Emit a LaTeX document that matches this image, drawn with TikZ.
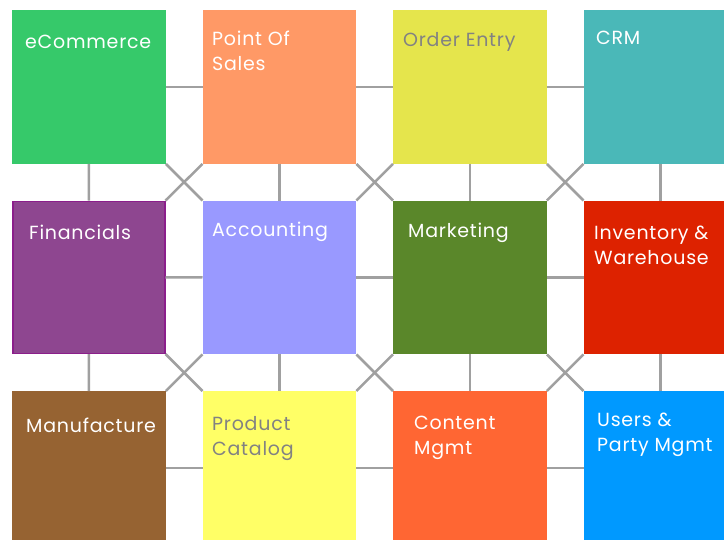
\documentclass[tikz,border=0pt]{standalone}
\usepackage{fontspec}
\setmainfont[LetterSpace=4]{Poppins}
\definecolor{cEcom}{RGB}{54,201,106}
\definecolor{cPos}{RGB}{255,153,102}
\definecolor{cOrder}{RGB}{229,229,76}
\definecolor{cCrm}{RGB}{74,184,184}
\definecolor{cFin}{RGB}{142,70,144}
\definecolor{cFinB}{RGB}{139,30,139}
\definecolor{cAcc}{RGB}{153,153,255}
\definecolor{cMkt}{RGB}{90,135,42}
\definecolor{cInv}{RGB}{221,34,0}
\definecolor{cMan}{RGB}{150,99,50}
\definecolor{cProd}{RGB}{255,255,102}
\definecolor{cCont}{RGB}{255,102,51}
\definecolor{cUser}{RGB}{0,153,255}
\definecolor{cLine}{RGB}{160,160,160}
\definecolor{cTxtG}{RGB}{130,130,130}
\tikzset{
  box/.style={draw=none, minimum width=153.5pt, minimum height=153.5pt, inner sep=0pt, anchor=north west},
  lbl/.style={anchor=base west, inner sep=0pt, align=left, font=\fontsize{19}{25}\selectfont, text=white},
  link/.style={draw=cLine, line width=2.5pt}
}
\begin{document}
\begin{tikzpicture}[x=1pt,y=-1pt]
\useasboundingbox (0,0) rectangle (724,539);
\clip (0,0) rectangle (724,539);
% boxes
\node[box, fill=cEcom]  (b11) at (12,10) {};
\node[box, fill=cPos]   (b12) at (202.5,10) {};
\node[box, fill=cOrder] (b13) at (393,10) {};
\node[box, fill=cCrm]   (b14) at (583.5,10) {};
\node[box, fill=cFin, draw=cFinB, line width=1.5pt, minimum width=152pt, minimum height=152pt] (b21) at (12,200.5) {};
\node[box, fill=cAcc]   (b22) at (202.5,200.5) {};
\node[box, fill=cMkt]   (b23) at (393,200.5) {};
\node[box, fill=cInv]   (b24) at (583.5,200.5) {};
\node[box, fill=cMan]   (b31) at (12,391) {};
\node[box, fill=cProd]  (b32) at (202.5,391) {};
\node[box, fill=cCont]  (b33) at (393,391) {};
\node[box, fill=cUser]  (b34) at (583.5,391) {};
% horizontal links
\foreach \r in {1,2,3}{
  \draw[link] (b\r1.east) -- (b\r2.west);
  \draw[link] (b\r2.east) -- (b\r3.west);
  \draw[link] (b\r3.east) -- (b\r4.west);
}
% vertical links
\foreach \c in {1,2,3,4}{
  \draw[link] (b1\c.south) -- (b2\c.north);
  \draw[link] (b2\c.south) -- (b3\c.north);
}
% crosses
\foreach \r/\s in {1/2,2/3}{
  \foreach \c/\d in {1/2,2/3,3/4}{
    \draw[link] (b\r\c.south east) -- (b\s\d.north west);
    \draw[link] (b\r\d.south west) -- (b\s\c.north east);
  }
}
% labels (multi-line: base = last line)
\node[lbl] (t11) at (25,48) {eCommerce};
\node[lbl] (t12) at (212,70) {Point Of\\Sales};
\node[lbl, text=cTxtG] (t13) at (403,46) {Order Entry};
\node[lbl] (t14) at (596,44) {CRM};
\node[lbl] (t21) at (29,239) {Financials};
\node[lbl] (t22) at (212,236) {Accounting};
\node[lbl] (t23) at (408,237) {Marketing};
\node[lbl] (t24) at (594,264) {Inventory \&\\Warehouse};
\node[lbl] (t31) at (26,432) {Manufacture};
\node[lbl, text=cTxtG] (t32) at (212,455) {Product\\Catalog};
\node[lbl] (t33) at (414,454) {Content\\Mgmt};
\node[lbl] (t34) at (597,451) {Users \&\\Party Mgmt};
\end{tikzpicture}
\end{document}
